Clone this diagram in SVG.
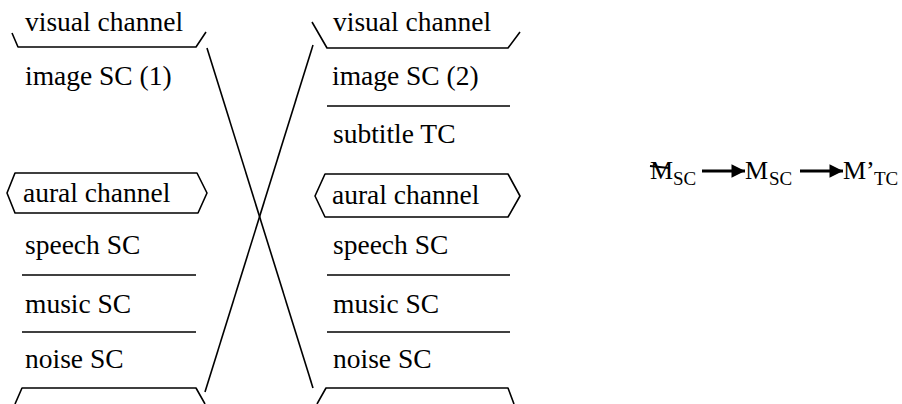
<svg xmlns="http://www.w3.org/2000/svg" width="902" height="404" viewBox="0 0 902 404">
<style>
  .t { font-family: "Liberation Serif", "Times New Roman", serif; font-size: 27.5px; fill: #000; }
  .f { font-family: "Liberation Serif", "Times New Roman", serif; font-size: 26px; fill: #000; }
  .s { font-size: 19px; }
  .ln { stroke: #000; stroke-width: 1.6; fill: none; stroke-linejoin: round; }
  .ar { stroke: #000; stroke-width: 3; fill: none; }
</style>
<defs>
  <marker id="ah" viewBox="0 0 10 10" refX="10" refY="5" markerWidth="6" markerHeight="4.5" markerUnits="strokeWidth" orient="auto">
    <path d="M0,0 L10,5 L0,10 Z" fill="#000"/>
  </marker>
</defs>
<rect width="902" height="404" fill="#fff"/>

<g id="left-visual">
  <text class="t" x="25" y="31">visual channel</text>
  <polyline class="ln" points="12,33 18,47 196,47 206,32"/>
</g>
<g id="left-image">
  <text class="t" x="25" y="85">image SC (1)</text>
</g>
<g id="left-aural">
  <polygon class="ln" points="15,173 197,173 207,193 198,213 15,213 7,193"/>
  <text class="t" x="23" y="202">aural channel</text>
</g>
<g id="left-speech">
  <text class="t" x="25" y="254">speech SC</text>
  <line class="ln" x1="22" y1="275" x2="196" y2="275"/>
</g>
<g id="left-music">
  <text class="t" x="25" y="313">music SC</text>
  <line class="ln" x1="22" y1="332" x2="196" y2="332"/>
</g>
<g id="left-noise">
  <text class="t" x="25" y="368">noise SC</text>
  <polyline class="ln" points="15,404 22,388 196,388 205,404"/>
</g>

<g id="right-visual">
  <text class="t" x="333" y="31">visual channel</text>
  <polyline class="ln" points="312,22 327,48 508,48 520,32"/>
</g>
<g id="right-image">
  <text class="t" x="332" y="85">image SC (2)</text>
  <line class="ln" x1="327" y1="106" x2="510" y2="106"/>
</g>
<g id="right-subtitle">
  <text class="t" x="333" y="143">subtitle TC</text>
</g>
<g id="right-aural">
  <polygon class="ln" points="325,174 508,174 520,196 508,217 325,217 315,196"/>
  <text class="t" x="332" y="204">aural channel</text>
</g>
<g id="right-speech">
  <text class="t" x="333" y="254">speech SC</text>
  <line class="ln" x1="327" y1="275" x2="510" y2="275"/>
</g>
<g id="right-music">
  <text class="t" x="333" y="313">music SC</text>
  <line class="ln" x1="327" y1="332" x2="510" y2="332"/>
</g>
<g id="right-noise">
  <text class="t" x="333" y="368">noise SC</text>
  <polyline class="ln" points="317,404 326,388 508,388 514,404"/>
</g>

<g id="connectors">
  <line class="ln" x1="207" y1="48" x2="313" y2="388"/>
  <line class="ln" x1="313" y1="45" x2="205" y2="392"/>
</g>

<g id="formula">
  <text class="f" x="650" y="179">M<tspan class="s" x="673" y="185">SC</tspan></text>
  <line stroke="#000" stroke-width="2.2" x1="650" y1="166" x2="669" y2="168"/>
  <line class="ar" x1="702" y1="171" x2="745" y2="171" marker-end="url(#ah)"/>
  <text class="f" x="745" y="179">M<tspan class="s" x="769" y="185">SC</tspan></text>
  <line class="ar" x1="800" y1="171" x2="843" y2="171" marker-end="url(#ah)"/>
  <text class="f" x="843" y="179">M’<tspan class="s" x="874" y="185">TC</tspan></text>
</g>
</svg>
